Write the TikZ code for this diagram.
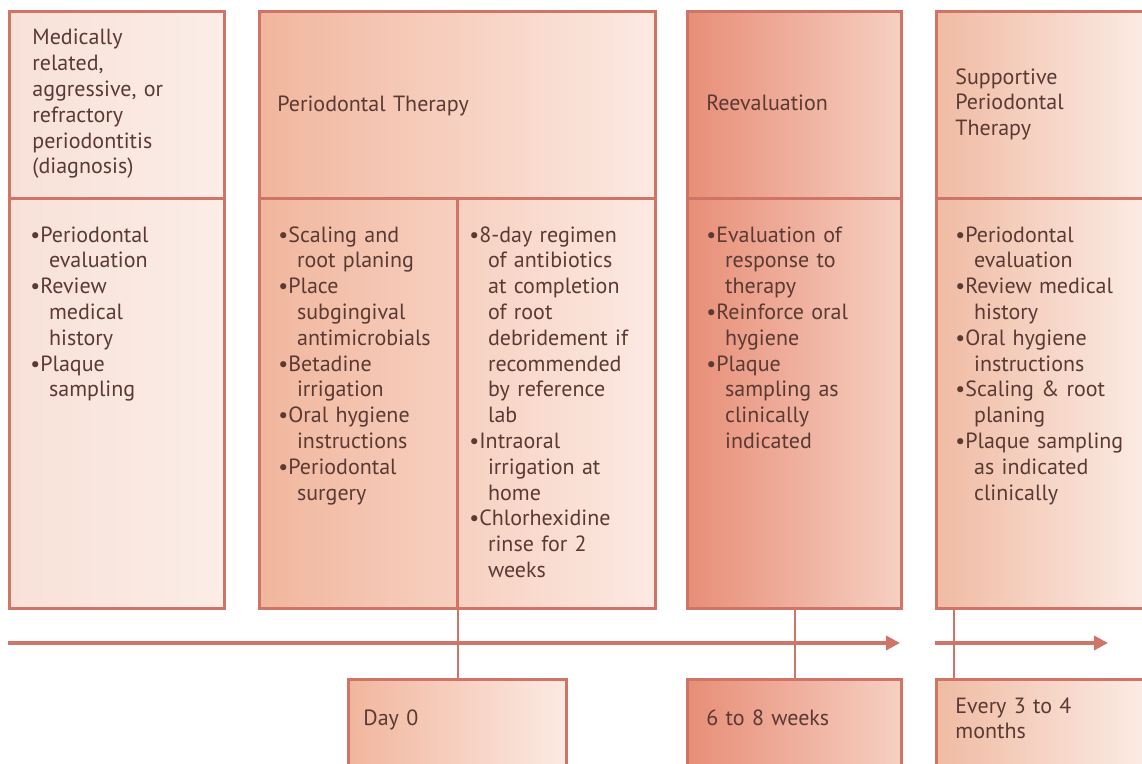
\documentclass[tikz,border=0pt]{standalone}
\usepackage{fontspec}
\setmainfont{PT Sans}
\usepackage{xcolor}
\usepackage{tikz}
\usetikzlibrary{arrows.meta,positioning,calc}
\definecolor{edge}   {HTML}{CF7467}
\definecolor{ink}    {HTML}{5A3A33}
\definecolor{paleL}  {HTML}{F8E1D8}
\definecolor{paleR}  {HTML}{FBEDE7}
\definecolor{peachL} {HTML}{F1B69D}
\definecolor{peachR} {HTML}{FCEAE3}
\definecolor{deepL}  {HTML}{E88E77}
\definecolor{deepR}  {HTML}{F6D0C2}
\definecolor{softL}  {HTML}{F0BBA3}
\definecolor{softR}  {HTML}{FCEEE8}
\newcommand{\blt}[1]{\par\noindent\hangindent=0.85em\hangafter=1{\let\\\newline\textbullet#1}\par}
\tikzset{
  panel/.style={draw=edge, line width=1.5pt, anchor=north west, inner sep=0pt},
  txt/.style={anchor=north west, inner sep=0pt, align=left, text width=100pt,
              text=ink, font=\fontsize{11}{12.9}\selectfont},
  link/.style={draw=edge, line width=1pt}
}
\begin{document}
\begin{tikzpicture}[x=0.5pt, y=-0.5pt]
  \useasboundingbox (0,0) rectangle (1142,764);
  % column panels
  \node[panel, minimum width=107.5pt, minimum height=93.5pt, left color=paleL, right color=paleR] (h1) at (8,10) {};
  \node[panel, minimum width=107.5pt, minimum height=205pt, left color=paleL, right color=paleR] (b1) at (8,197) {};
  \node[panel, minimum width=198pt, minimum height=93.5pt, left color=peachL, right color=peachR] (h2) at (258,10) {};
  \node[panel, minimum width=198pt, minimum height=205pt, left color=peachL, right color=peachR] (b2) at (258,197) {};
  \node[panel, minimum width=107pt, minimum height=93.5pt, left color=deepL, right color=deepR] (h3) at (686,10) {};
  \node[panel, minimum width=107pt, minimum height=205pt, left color=deepL, right color=deepR] (b3) at (686,197) {};
  \node[panel, minimum width=110pt, minimum height=93.5pt, left color=softL, right color=softR] (h4) at (935,10) {};
  \node[panel, minimum width=110pt, minimum height=205pt, left color=softL, right color=softR] (b4) at (935,197) {};
  \draw[edge, line width=1.5pt] (b2.north) -- (b2.south);
  % time boxes
  \node[panel, minimum width=109pt, minimum height=50pt, left color=peachL, right color=peachR] (d0) at (347,678) {};
  \node[panel, minimum width=107pt, minimum height=50pt, left color=deepL, right color=deepR] (w68) at (686,678) {};
  \node[panel, minimum width=110pt, minimum height=50pt, left color=softL, right color=softR] (ev) at (935,678) {};
  % time line
  \coordinate (t0) at (8,643);
  \coordinate (t1) at (900,643);
  \coordinate (t2) at (935,643);
  \coordinate (t3) at (1108,643);
  \draw[edge, line width=2pt, -{Triangle[length=7pt,width=7pt]}] (t0) -- (t1);
  \draw[edge, line width=2pt, -{Triangle[length=7pt,width=7pt]}] (t2) -- (t3);
  \draw[link] (b2.south) -- (b2.south |- d0.north);
  \draw[link] (b3.south) -- (w68.north);
  \draw[link] ($(b4.south west)+(19,0)$) -- ($(ev.north west)+(19,0)$);
  % headings
  \node[txt] (ht1) at (32,29) {Medically\\related,\\aggressive, or\\refractory\\periodontitis\\(diagnosis)};
  \node[txt, text width=180pt] (ht2) at (277,96) {Periodontal Therapy};
  \node[txt] (ht3) at (706,95) {Reevaluation};
  \node[txt] (ht4) at (955,68) {Supportive\\Periodontal\\Therapy};
  % lists
  \node[txt] (lt1) at (30,216) {\blt{Periodontal\\evaluation}\blt{Review\\medical\\history}\blt{Plaque\\sampling}};
  \node[txt] (lt2) at (278,216) {\blt{Scaling and\\root planing}\blt{Place\\subgingival\\antimicrobials}\blt{Betadine\\irrigation}\blt{Oral hygiene\\instructions}\blt{Periodontal\\surgery}};
  \node[txt] (lt3) at (469,216) {\blt{8-day regimen\\of antibiotics\\at completion\\of root\\debridement if\\recommended\\by reference\\lab}\blt{Intraoral\\irrigation at\\home}\blt{Chlorhexidine\\rinse for 2\\weeks}};
  \node[txt] (lt4) at (706,216) {\blt{Evaluation of\\response to\\therapy}\blt{Reinforce oral\\hygiene}\blt{Plaque\\sampling as\\clinically\\indicated}};
  \node[txt] (lt5) at (955,216) {\blt{Periodontal\\evaluation}\blt{Review medical\\history}\blt{Oral hygiene\\instructions}\blt{Scaling \& root\\planing}\blt{Plaque sampling\\as indicated\\clinically}};
  % times
  \node[txt] (tt1) at (363,709) {Day 0};
  \node[txt] (tt2) at (706,709) {6 to 8 weeks};
  \node[txt] (tt3) at (955,697) {Every 3 to 4\\months};
\end{tikzpicture}
\end{document}
